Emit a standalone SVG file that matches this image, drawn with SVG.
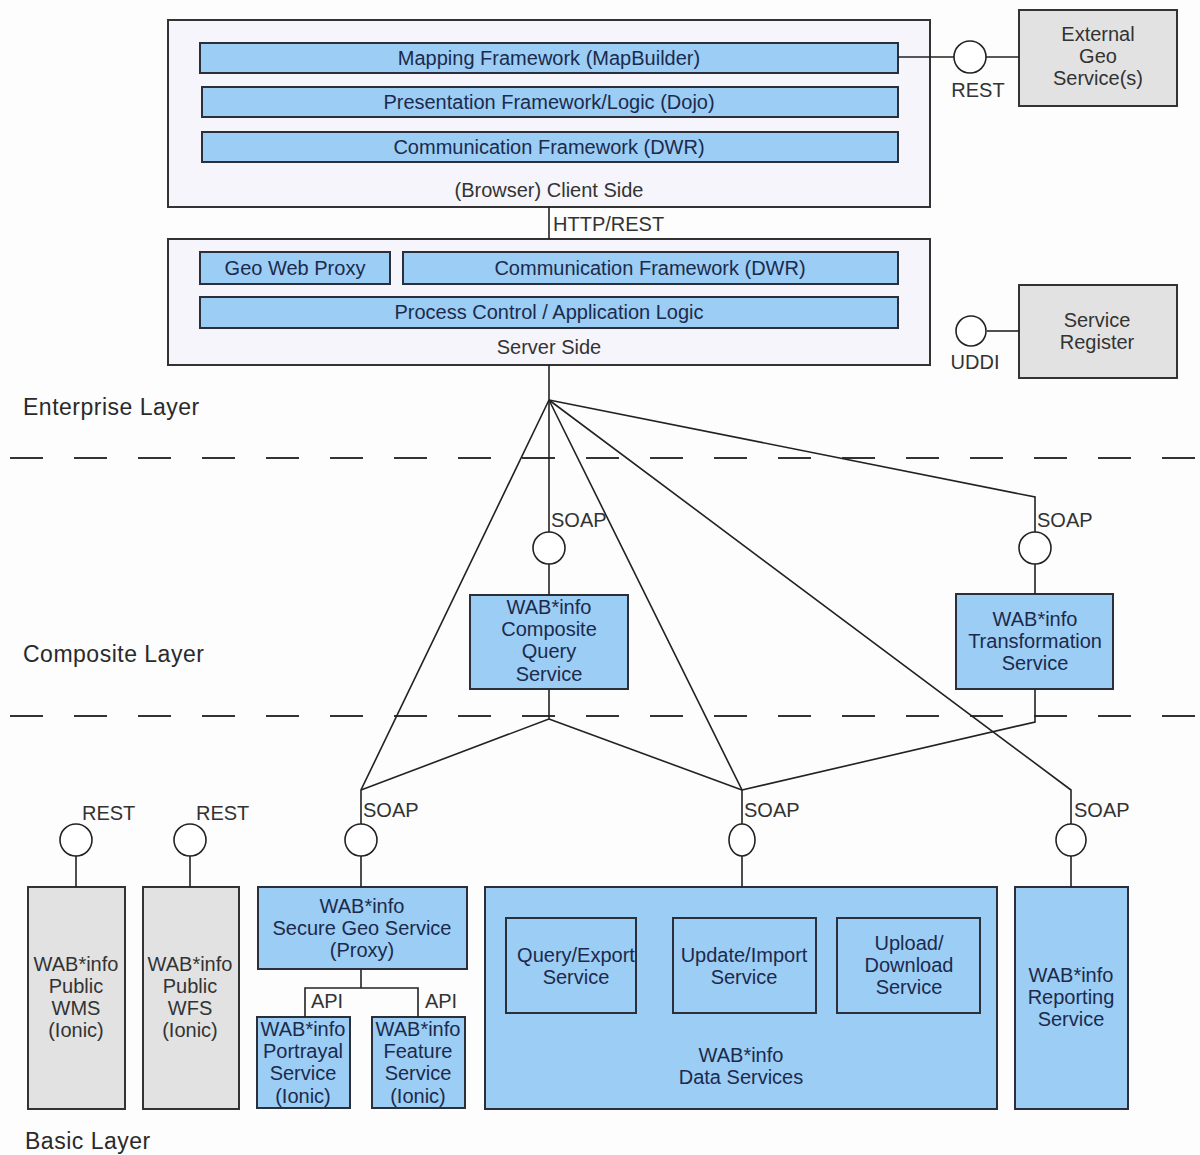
<svg xmlns="http://www.w3.org/2000/svg" width="1200" height="1155" viewBox="0 0 1200 1155">
<style>
text{font-family:"Liberation Sans",Arial,sans-serif;font-size:20px;fill:#333;text-anchor:middle}
.lbl{text-anchor:start}
.layer{font-size:23px;letter-spacing:0.5px;text-anchor:start;fill:#2a2a2a}
.bt{fill:#1c2a4c}
.outer{fill:#f5f5fb;stroke:#333;stroke-width:2}
.blue{fill:#9bcdf5;stroke:#2b2f3a;stroke-width:2}
.gray{fill:#e2e2e2;stroke:#333;stroke-width:2}
.ln{stroke:#222;stroke-width:1.6;fill:none}
.if{fill:#fff;stroke:#222;stroke-width:1.6}
.dash{stroke:#333;stroke-width:2;stroke-dasharray:33 31;fill:none}
</style>
<rect width="1200" height="1155" fill="#fcfdfc"/>

<g id="layers">
<line class="dash" x1="10" y1="458" x2="1200" y2="458"/>
<line class="dash" x1="10" y1="716" x2="1200" y2="716"/>
<text class="layer" x="23" y="415">Enterprise Layer</text>
<text class="layer" x="23" y="662">Composite Layer</text>
<text class="layer" x="25" y="1149">Basic Layer</text>
</g>

<g id="client">
<rect class="outer" x="168" y="20" width="762" height="187"/>
<rect class="blue" x="200" y="43" width="698" height="30"/>
<text class="bt" x="549" y="65">Mapping Framework (MapBuilder)</text>
<rect class="blue" x="202" y="87" width="696" height="30"/>
<text class="bt" x="549" y="109">Presentation Framework/Logic (Dojo)</text>
<rect class="blue" x="202" y="132" width="696" height="30"/>
<text class="bt" x="549" y="154">Communication Framework (DWR)</text>
<text x="549" y="197">(Browser) Client Side</text>
</g>

<g id="server">
<rect class="outer" x="168" y="239" width="762" height="126"/>
<rect class="blue" x="200" y="252" width="190" height="32"/>
<text class="bt" x="295" y="275">Geo Web Proxy</text>
<rect class="blue" x="403" y="252" width="495" height="32"/>
<text class="bt" x="650" y="275">Communication Framework (DWR)</text>
<rect class="blue" x="200" y="297" width="698" height="31"/>
<text class="bt" x="549" y="319">Process Control / Application Logic</text>
<text x="549" y="354">Server Side</text>
</g>

<g id="external-geo">
<rect class="gray" x="1019" y="10" width="158" height="96"/>
<text x="1098" y="41">External</text>
<text x="1098" y="63">Geo</text>
<text x="1098" y="85">Service(s)</text>
</g>

<g id="service-register">
<rect class="gray" x="1019" y="285" width="158" height="93"/>
<text x="1097" y="327">Service</text>
<text x="1097" y="349">Register</text>
</g>

<g id="composite-query">
<rect class="blue" x="470" y="595" width="158" height="94"/>
<text class="bt" x="549" y="614">WAB*info</text>
<text class="bt" x="549" y="636">Composite</text>
<text class="bt" x="549" y="658">Query</text>
<text class="bt" x="549" y="681">Service</text>
</g>

<g id="transformation">
<rect class="blue" x="956" y="594" width="157" height="95"/>
<text class="bt" x="1035" y="626">WAB*info</text>
<text class="bt" x="1035" y="648">Transformation</text>
<text class="bt" x="1035" y="670">Service</text>
</g>

<g id="public-wms">
<rect class="gray" x="28" y="887" width="97" height="222"/>
<text x="76" y="971">WAB*info</text>
<text x="76" y="993">Public</text>
<text x="76" y="1015">WMS</text>
<text x="76" y="1037">(Ionic)</text>
</g>

<g id="public-wfs">
<rect class="gray" x="143" y="887" width="96" height="222"/>
<text x="190" y="971">WAB*info</text>
<text x="190" y="993">Public</text>
<text x="190" y="1015">WFS</text>
<text x="190" y="1037">(Ionic)</text>
</g>

<g id="secure-geo">
<rect class="blue" x="258" y="887" width="209" height="82"/>
<text class="bt" x="362" y="913">WAB*info</text>
<text class="bt" x="362" y="935">Secure Geo Service</text>
<text class="bt" x="362" y="957">(Proxy)</text>
</g>

<g id="portrayal">
<rect class="blue" x="257" y="1017" width="93" height="91"/>
<text class="bt" x="303" y="1036">WAB*info</text>
<text class="bt" x="303" y="1058">Portrayal</text>
<text class="bt" x="303" y="1080">Service</text>
<text class="bt" x="303" y="1103">(Ionic)</text>
</g>

<g id="feature">
<rect class="blue" x="372" y="1017" width="93" height="91"/>
<text class="bt" x="418" y="1036">WAB*info</text>
<text class="bt" x="418" y="1058">Feature</text>
<text class="bt" x="418" y="1080">Service</text>
<text class="bt" x="418" y="1103">(Ionic)</text>
</g>

<g id="data-services">
<rect class="blue" x="485" y="887" width="512" height="222"/>
<rect class="blue" x="506" y="918" width="130" height="95"/>
<text class="bt" x="576" y="962">Query/Export</text>
<text class="bt" x="576" y="984">Service</text>
<rect class="blue" x="673" y="918" width="143" height="95"/>
<text class="bt" x="744" y="962">Update/Import</text>
<text class="bt" x="744" y="984">Service</text>
<rect class="blue" x="837" y="918" width="143" height="95"/>
<text class="bt" x="909" y="950">Upload/</text>
<text class="bt" x="909" y="972">Download</text>
<text class="bt" x="909" y="994">Service</text>
<text class="bt" x="741" y="1062">WAB*info</text>
<text class="bt" x="741" y="1084">Data Services</text>
</g>

<g id="reporting">
<rect class="blue" x="1015" y="887" width="113" height="222"/>
<text class="bt" x="1071" y="982">WAB*info</text>
<text class="bt" x="1071" y="1004">Reporting</text>
<text class="bt" x="1071" y="1026">Service</text>
</g>

<g id="connectors">
<line class="ln" x1="898" y1="57" x2="1019" y2="57"/>
<line class="ln" x1="987" y1="331" x2="1019" y2="331"/>
<line class="ln" x1="549" y1="207" x2="549" y2="239"/>
<line class="ln" x1="549" y1="365" x2="549" y2="400"/>
<polyline class="ln" points="549,400 549,595"/>
<polyline class="ln" points="549,400 361,790 361,887"/>
<polyline class="ln" points="549,400 742,790 742,887"/>
<polyline class="ln" points="549,400 1071,790 1071,887"/>
<polyline class="ln" points="549,400 1035,497 1035,594"/>
<polyline class="ln" points="361,790 549,719 549,689"/>
<polyline class="ln" points="549,719 742,790"/>
<polyline class="ln" points="742,790 1035,722 1035,689"/>
<line class="ln" x1="76" y1="856" x2="76" y2="887"/>
<line class="ln" x1="190" y1="856" x2="190" y2="887"/>
<polyline class="ln" points="361,969 361,988"/>
<polyline class="ln" points="305,1017 305,988 418,988 418,1017"/>
<text class="lbl" x="553" y="231">HTTP/REST</text>
</g>

<g id="interfaces">
<circle class="if" cx="970" cy="57" r="16"/>
<text x="978" y="97">REST</text>
<circle class="if" cx="971" cy="331" r="15"/>
<text x="975" y="369">UDDI</text>
<circle class="if" cx="549" cy="548" r="16"/>
<text class="lbl" x="551" y="527">SOAP</text>
<circle class="if" cx="1035" cy="548" r="16"/>
<text class="lbl" x="1037" y="527">SOAP</text>
<circle class="if" cx="361" cy="840" r="16"/>
<text class="lbl" x="363" y="817">SOAP</text>
<ellipse class="if" cx="742" cy="840" rx="13" ry="16"/>
<text class="lbl" x="744" y="817">SOAP</text>
<ellipse class="if" cx="1071" cy="840" rx="15" ry="16"/>
<text class="lbl" x="1074" y="817">SOAP</text>
<circle class="if" cx="76" cy="840" r="16"/>
<text class="lbl" x="82" y="820">REST</text>
<circle class="if" cx="190" cy="840" r="16"/>
<text class="lbl" x="196" y="820">REST</text>
<text x="327" y="1008">API</text>
<text x="441" y="1008">API</text>
</g>
</svg>
